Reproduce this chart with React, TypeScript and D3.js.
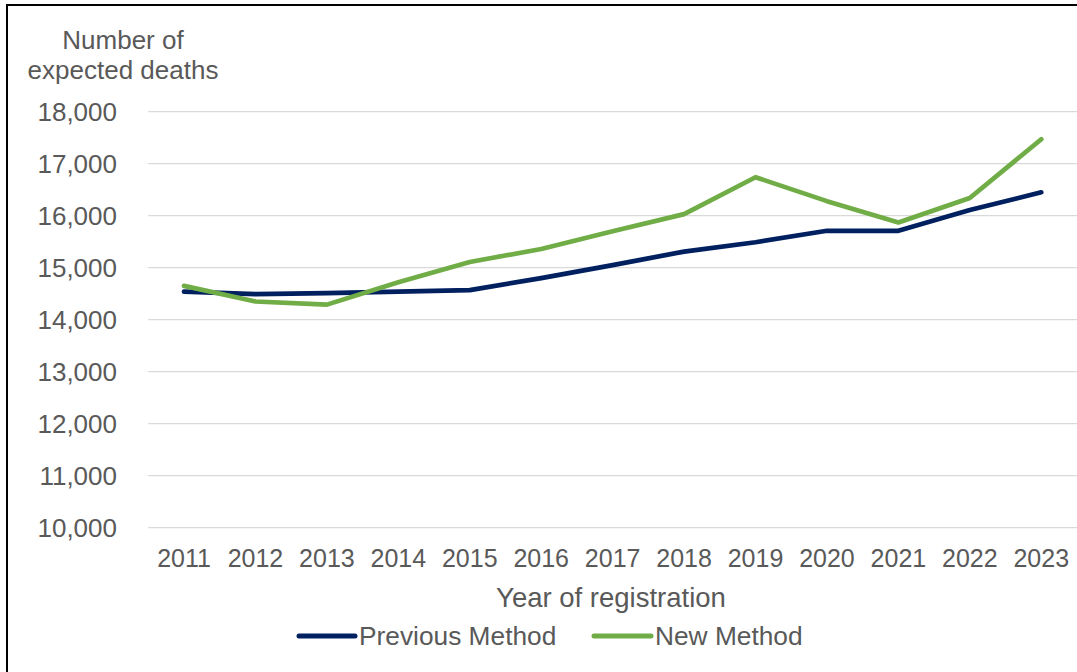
import React from "react";
import * as d3 from "d3";

const years = ["2011","2012","2013","2014","2015","2016","2017","2018","2019","2020","2021","2022","2023"];
const previousMethod = [14540, 14490, 14510, 14540, 14570, 14800, 15050, 15310, 15490, 15710, 15710, 16110, 16450];
const newMethod = [14650, 14350, 14290, 14720, 15110, 15360, 15700, 16030, 16740, 16280, 15870, 16340, 17470];
const yTicks = [10000, 11000, 12000, 13000, 14000, 15000, 16000, 17000, 18000];
const seriesNames = ["Previous Method", "New Method"];
const seriesColors = ["#002060", "#70AD47"];

const W = 1077;
const H = 672;
const FONT = "Arial, 'Liberation Sans', sans-serif";
const TXT = "#595959";

export default function App() {
  const x = d3.scaleBand<string>().domain(years).range([148.3, 1077]);
  const y = d3.scaleLinear().domain([10000, 18000]).range([527.7, 111.7]);
  const cx = (yr: string) => (x(yr) as number) + x.bandwidth() / 2;
  const line = d3
    .line<number>()
    .x((_, i) => cx(years[i]))
    .y((d) => y(d));
  const series = [previousMethod, newMethod];
  const fmt = d3.format(",");
  const legendItems = [
    { x1: 299, x2: 355, tx: 359 },
    { x1: 594, x2: 651, tx: 655 },
  ];

  return (
    <svg
      width={W}
      height={H}
      style={{ position: "absolute", left: 0, top: 0, background: "#fff" }}
      fontFamily={FONT}
    >
      <rect x={0} y={0} width={W} height={H} fill="#fff" />
      <line x1={7} y1={4} x2={7} y2={H} stroke="#000" strokeWidth={2} />
      <line x1={6} y1={5} x2={W} y2={5} stroke="#000" strokeWidth={2} />

      {yTicks.map((t) => (
        <g key={t}>
          <line x1={148.3} x2={1077} y1={y(t)} y2={y(t)} stroke="#D9D9D9" strokeWidth={1.3} />
          <text x={117} y={y(t)} dy="0.35em" textAnchor="end" fontSize={26} fill={TXT}>
            {fmt(t)}
          </text>
        </g>
      ))}

      <text x={123} y={49} textAnchor="middle" fontSize={26} fill={TXT}>Number of</text>
      <text x={123} y={79} textAnchor="middle" fontSize={26} fill={TXT}>expected deaths</text>

      {years.map((yr) => (
        <text key={yr} x={cx(yr)} y={567} textAnchor="middle" fontSize={25} fill={TXT}>
          {yr}
        </text>
      ))}

      <text x={611} y={607} textAnchor="middle" fontSize={27.5} fill={TXT}>
        Year of registration
      </text>

      {series.map((s, i) => (
        <path
          key={i}
          d={line(s) || ""}
          fill="none"
          stroke={seriesColors[i]}
          strokeWidth={4.7}
          strokeLinejoin="round"
          strokeLinecap="round"
        />
      ))}

      {legendItems.map((l, i) => (
        <g key={i}>
          <line x1={l.x1} x2={l.x2} y1={636} y2={636} stroke={seriesColors[i]} strokeWidth={5} strokeLinecap="round" />
          <text x={l.tx} y={645} fontSize={26.3} fill={TXT}>
            {seriesNames[i]}
          </text>
        </g>
      ))}
    </svg>
  );
}
